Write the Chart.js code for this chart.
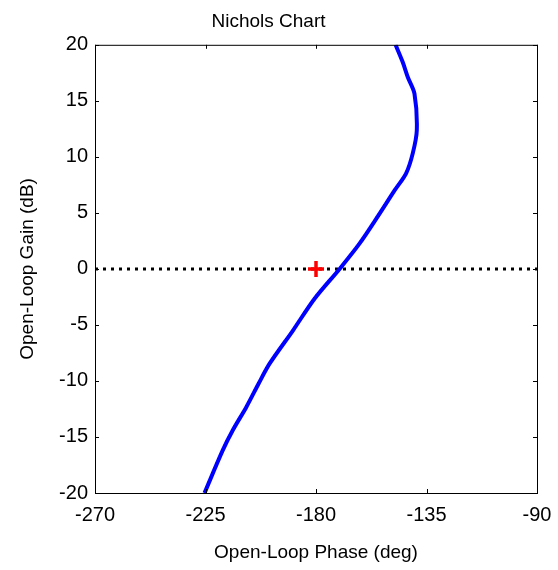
<!DOCTYPE html>
<html>
<head>
<meta charset="utf-8">
<script src="https://cdn.jsdelivr.net/npm/chart.js@4/dist/chart.umd.min.js"></script>
<style>
  html, body { margin: 0; padding: 0; background: #fff; }
  #wrap { width: 558px; height: 570px; }
</style>
</head>
<body>
<div id="wrap"><canvas id="myChart"></canvas></div>
<script>
// open-loop response
const phaseDeg = [-225.4, -218.0, -213.9, -208.4, -203.4, -198.9, -189.4, -180.6, -170.4, -162.3, -154.1, -148.0, -143.3, -140.6, -138.95, -139.9, -142.6, -144.7, -147.6];
const gainDb   = [-20.0, -16.2, -14.4, -12.34, -10.25, -8.46, -5.5, -2.66, 0.0, 2.25, 4.93, 7.0, 8.53, 10.31, 12.37, 15.64, 17.1, 18.46, 20.0];

const phaseTicks = [-270, -225, -180, -135, -90];
const gainTicks = [-20, -15, -10, -5, 0, 5, 10, 15, 20];
const zeroLinePhase = [-270, -90];
const criticalPoint = [-180, 0];

const font = "'Liberation Sans', Arial, sans-serif";

// box around the plot + small ticks pointing inward on all sides
const frameTicks = {
    id: 'frameTicks',
    afterDraw(chart) {
        const { ctx, chartArea: a, scales } = chart;
        const len = 4;
        ctx.save();
        ctx.strokeStyle = '#000';
        ctx.lineWidth = 1;
        ctx.strokeRect(a.left + 0.5, a.top + 0.5, a.right - a.left, a.bottom - a.top);
        ctx.beginPath();
        phaseTicks.forEach(v => {
            const x = Math.round(scales.x.getPixelForValue(v)) + 0.5;
            ctx.moveTo(x, a.bottom); ctx.lineTo(x, a.bottom - len);
            ctx.moveTo(x, a.top); ctx.lineTo(x, a.top + len);
        });
        gainTicks.forEach(v => {
            const y = Math.round(scales.y.getPixelForValue(v)) + 0.5;
            ctx.moveTo(a.left, y); ctx.lineTo(a.left + len, y);
            ctx.moveTo(a.right, y); ctx.lineTo(a.right - len, y);
        });
        ctx.stroke();
        ctx.restore();
    }
};

const ctx = document.getElementById('myChart').getContext('2d');
const myChart = new Chart(ctx, {
    type: 'line',
    data: {
        datasets: [{
            label: 'critical point',
            type: 'scatter',
            data: [{ x: criticalPoint[0], y: criticalPoint[1] }],
            pointStyle: 'cross',
            pointRadius: 8,
            borderColor: '#ff0000',
            borderWidth: 3.5,
            order: 0
        }, {
            label: 'response',
            data: phaseDeg.map((p, i) => ({ x: p, y: gainDb[i] })),
            borderColor: '#0000ff',
            borderWidth: 4,
            pointRadius: 0,
            tension: 0.3,
            fill: false,
            order: 1
        }, {
            label: '0 dB',
            data: zeroLinePhase.map(p => ({ x: p, y: 0 })),
            borderColor: '#000',
            borderWidth: 3,
            borderDash: [3, 5],
            pointRadius: 0,
            fill: false,
            order: 2
        }]
    },
    options: {
        responsive: true,
        maintainAspectRatio: false,
        animation: false,
        layout: { padding: { top: 0, right: 21, bottom: 0, left: 0 } },
        plugins: {
            legend: { display: false },
            tooltip: { enabled: false },
            title: {
                display: true,
                text: 'Nichols Chart',
                color: '#000',
                font: { family: font, size: 19, weight: 'normal' },
                padding: { top: 10, bottom: 12 }
            }
        },
        scales: {
            x: {
                type: 'linear',
                min: -270,
                max: -90,
                afterBuildTicks: s => { s.ticks = phaseTicks.map(v => ({ value: v })); },
                afterFit: s => { s.height = 77; s.paddingLeft = 0; s.paddingRight = 0; },
                grid: { display: false, drawTicks: false },
                border: { display: false },
                ticks: { color: '#000', padding: 10, maxRotation: 0, font: { family: font, size: 20 } },
                title: {
                    display: true,
                    text: 'Open-Loop Phase (deg)',
                    color: '#000',
                    font: { family: font, size: 19 },
                    padding: { top: 0, bottom: 6 }
                }
            },
            y: {
                type: 'linear',
                min: -20,
                max: 20,
                afterBuildTicks: s => { s.ticks = gainTicks.map(v => ({ value: v })); },
                afterFit: s => { s.width = 95; s.paddingTop = 0; s.paddingBottom = 0; },
                grid: { display: false, drawTicks: false },
                border: { display: false },
                ticks: { color: '#000', padding: 7, font: { family: font, size: 20 } },
                title: {
                    display: true,
                    text: 'Open-Loop Gain (dB)',
                    color: '#000',
                    font: { family: font, size: 19 },
                    padding: { top: 16, bottom: 0 }
                }
            }
        }
    },
    plugins: [frameTicks]
});
</script>
</body>
</html>
